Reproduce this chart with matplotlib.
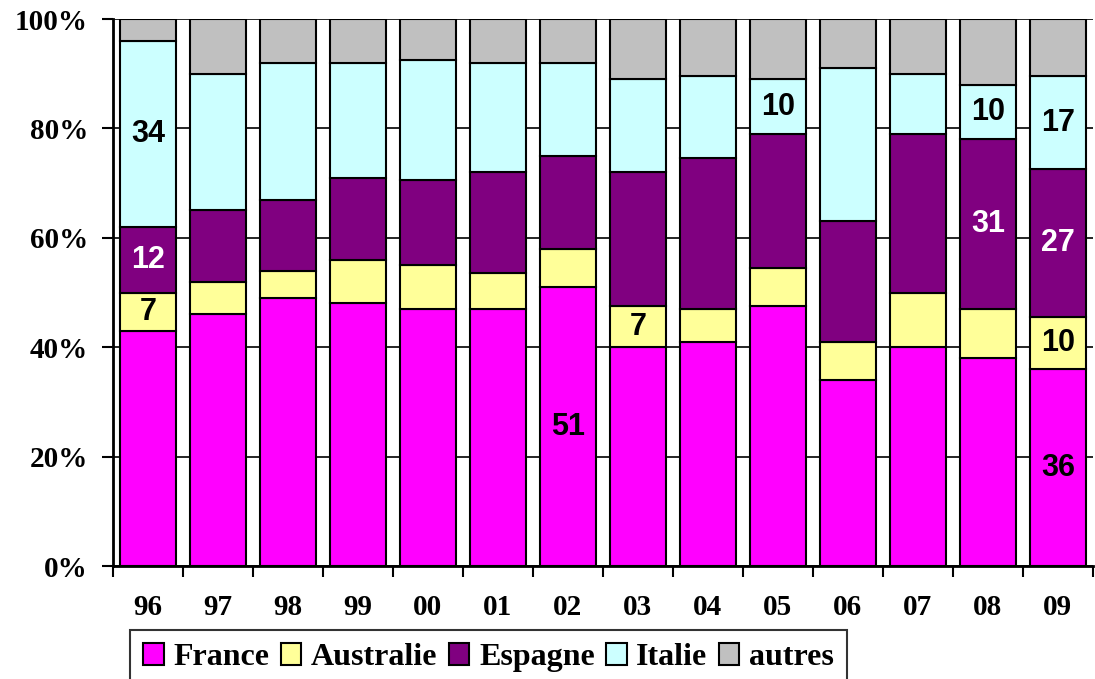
import numpy as np
import matplotlib
matplotlib.use("Agg")
import matplotlib.pyplot as plt

years = ["96", "97", "98", "99", "00", "01", "02", "03", "04", "05", "06", "07", "08", "09"]
france    = [43, 46, 49, 48, 47, 47, 51, 40, 41, 47.5, 34, 40, 38, 36]
australie = [7, 6, 5, 8, 8, 6.5, 7, 7.5, 6, 7, 7, 10, 9, 9.5]
espagne   = [12, 13, 13, 15, 15.5, 18.5, 17, 24.5, 27.5, 24.5, 22, 29, 31, 27]
italie    = [34, 25, 25, 21, 22, 20, 17, 17, 15, 10, 28, 11, 10, 17]
autres    = [4, 10, 8, 8, 7.5, 8, 8, 11, 10.5, 11, 9, 10, 12, 10.5]

series = [
    ("France",    france,    "#FF00FF"),
    ("Australie", australie, "#FFFF99"),
    ("Espagne",   espagne,   "#800080"),
    ("Italie",    italie,    "#CCFFFF"),
    ("autres",    autres,    "#C0C0C0"),
]

# (year index, series name, label text)
labels = [
    (0, "Italie", "34"), (0, "Espagne", "12"), (0, "Australie", "7"),
    (6, "France", "51"), (7, "Australie", "7"), (9, "Italie", "10"),
    (12, "Italie", "10"), (12, "Espagne", "31"),
    (13, "Italie", "17"), (13, "Espagne", "27"), (13, "Australie", "10"), (13, "France", "36"),
]

# normalise each year to 100 %
tot = np.sum([s[1] for s in series], axis=0)
data = {name: np.array(vals) / tot * 100 for name, vals, _ in series}

fig = plt.figure(figsize=(10.95, 6.79), dpi=100)
ax = fig.add_axes([0.1032, 0.1664, 0.8948, 0.8056])

x = np.arange(len(years))
bottom = np.zeros(len(years))
bottoms = {}
for name, _, col in series:
    bottoms[name] = bottom.copy()
    ax.bar(x, data[name], bottom=bottom, width=0.8, color=col, edgecolor="black",
           linewidth=1.5, label=name, zorder=3)
    bottom += data[name]

for i, name, txt in labels:
    yc = bottoms[name][i] + data[name][i] / 2
    c = "white" if name == "Espagne" else "black"
    ax.text(x[i], yc, txt, ha="center", va="center", fontsize=22, fontweight="bold",
            family="Liberation Sans", color=c, zorder=4)

ax.set_xlim(-0.5, len(years) - 0.5)
ax.set_ylim(0, 100)
ax.set_yticks(np.arange(0, 101, 20))
ax.set_yticklabels([f"{v}%" for v in range(0, 101, 20)])
ax.grid(axis="y", color="black", lw=1.2, zorder=0)
ax.set_xticks(np.arange(-0.5, len(years), 1.0))
ax.set_xticklabels([])
ax.set_xticks(x, minor=True)
ax.set_xticklabels(years, minor=True)
ax.tick_params(axis="x", which="major", length=8, width=1.5, direction="out")
ax.tick_params(axis="x", which="minor", length=0, pad=20)
ax.tick_params(axis="y", length=8, width=1.5, pad=10)
for lab in ax.get_yticklabels() + ax.get_xticklabels(minor=True):
    lab.set_fontfamily("Liberation Serif")
    lab.set_fontweight("bold")
    lab.set_fontsize(21)
for s in ["top", "right"]:
    ax.spines[s].set_visible(False)
ax.spines["left"].set_linewidth(2)
ax.spines["bottom"].set_linewidth(2)

leg = fig.legend(loc="upper left", bbox_to_anchor=(0.119, 0.072), ncol=5,
                 prop={"family": "Liberation Serif", "weight": "bold", "size": 23},
                 frameon=True, fancybox=False, edgecolor="black",
                 handlelength=0.65, handleheight=0.7, handletextpad=0.3,
                 columnspacing=0.35, borderpad=0.4, borderaxespad=0)
leg.get_frame().set_linewidth(1.5)

fig.savefig("out.png", dpi=100)
